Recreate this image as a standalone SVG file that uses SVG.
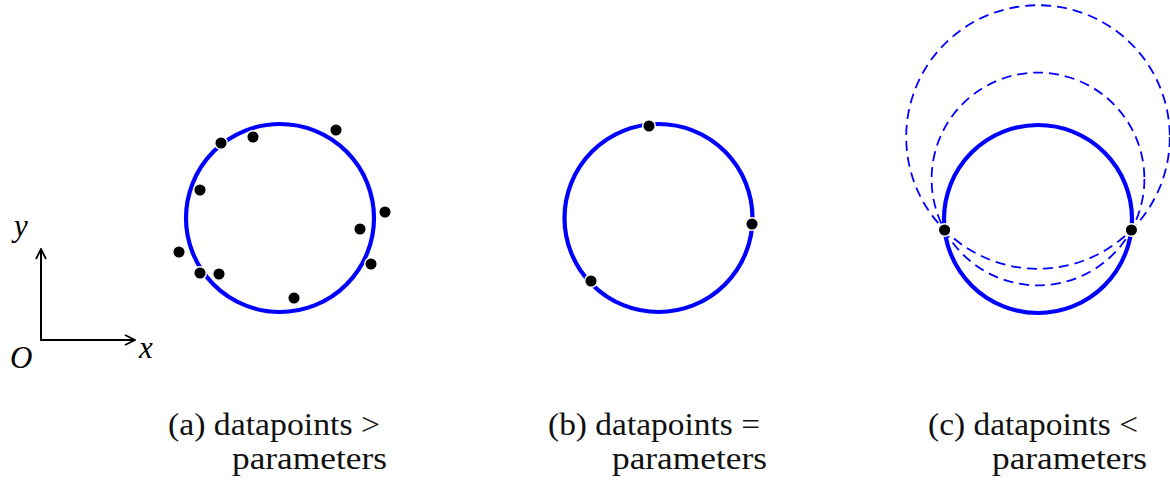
<svg xmlns="http://www.w3.org/2000/svg" width="1170" height="485" viewBox="0 0 1170 485">
<style>
.fit{fill:none;stroke:#0000ff;stroke-width:4.2}
.alt{fill:none;stroke:#0000ff;stroke-width:1.8;stroke-dasharray:10 6}
.pt{fill:#000;stroke:#fff;stroke-width:1.5}
.ax{fill:none;stroke:#000;stroke-width:2}
.lbl{font-family:"Liberation Serif","DejaVu Serif",serif;font-size:31px;fill:#111}
.math{font-family:"Liberation Serif","DejaVu Serif",serif;font-style:italic;font-size:31px;fill:#000}
</style>
<defs>
<marker id="arr" viewBox="0 0 12 12" refX="11" refY="6" markerWidth="12" markerHeight="12" markerUnits="userSpaceOnUse" orient="auto">
<path d="M1,1 L11,6 L1,11" fill="none" stroke="#000" stroke-width="1.8"/>
</marker>
</defs>
<rect width="1170" height="485" fill="#fff"/>
<g id="axes">
<line class="ax" x1="41" y1="340" x2="41" y2="249" marker-end="url(#arr)"/>
<line class="ax" x1="40" y1="340" x2="135" y2="340" marker-end="url(#arr)"/>
<text class="math" x="14" y="236">y</text>
<text class="math" x="10" y="368">O</text>
<text class="math" x="139" y="358">x</text>
</g>
<g id="panel-a">
<circle class="fit" cx="280" cy="218" r="94"/>
<circle class="pt" cx="221" cy="143" r="6.3"/>
<circle class="pt" cx="253" cy="137" r="6.3"/>
<circle class="pt" cx="336" cy="130" r="6.3"/>
<circle class="pt" cx="200" cy="190" r="6.3"/>
<circle class="pt" cx="385" cy="212" r="6.3"/>
<circle class="pt" cx="360" cy="229" r="6.3"/>
<circle class="pt" cx="179" cy="252" r="6.3"/>
<circle class="pt" cx="200" cy="273" r="6.3"/>
<circle class="pt" cx="219" cy="274" r="6.3"/>
<circle class="pt" cx="371" cy="264" r="6.3"/>
<circle class="pt" cx="294" cy="298" r="6.3"/>
<text class="lbl" x="168" y="435" textLength="212" lengthAdjust="spacingAndGlyphs">(a) datapoints &gt;</text>
<text class="lbl" x="232" y="469" textLength="155" lengthAdjust="spacingAndGlyphs">parameters</text>
</g>
<g id="panel-b">
<circle class="fit" cx="658.5" cy="218" r="94"/>
<circle class="pt" cx="649" cy="126" r="6.3"/>
<circle class="pt" cx="752" cy="224" r="6.3"/>
<circle class="pt" cx="591" cy="281" r="6.3"/>
<text class="lbl" x="548" y="435" textLength="212" lengthAdjust="spacingAndGlyphs">(b) datapoints =</text>
<text class="lbl" x="612" y="469" textLength="155" lengthAdjust="spacingAndGlyphs">parameters</text>
</g>
<g id="panel-c">
<circle class="alt" cx="1038" cy="137" r="131.8"/>
<circle class="alt" cx="1038" cy="179" r="106.4"/>
<circle class="fit" cx="1038" cy="219" r="94"/>
<circle class="pt" cx="944.6" cy="230" r="6.3"/>
<circle class="pt" cx="1131.4" cy="230" r="6.3"/>
<text class="lbl" x="928" y="435" textLength="210" lengthAdjust="spacingAndGlyphs">(c) datapoints &lt;</text>
<text class="lbl" x="992" y="469" textLength="155" lengthAdjust="spacingAndGlyphs">parameters</text>
</g>
</svg>
